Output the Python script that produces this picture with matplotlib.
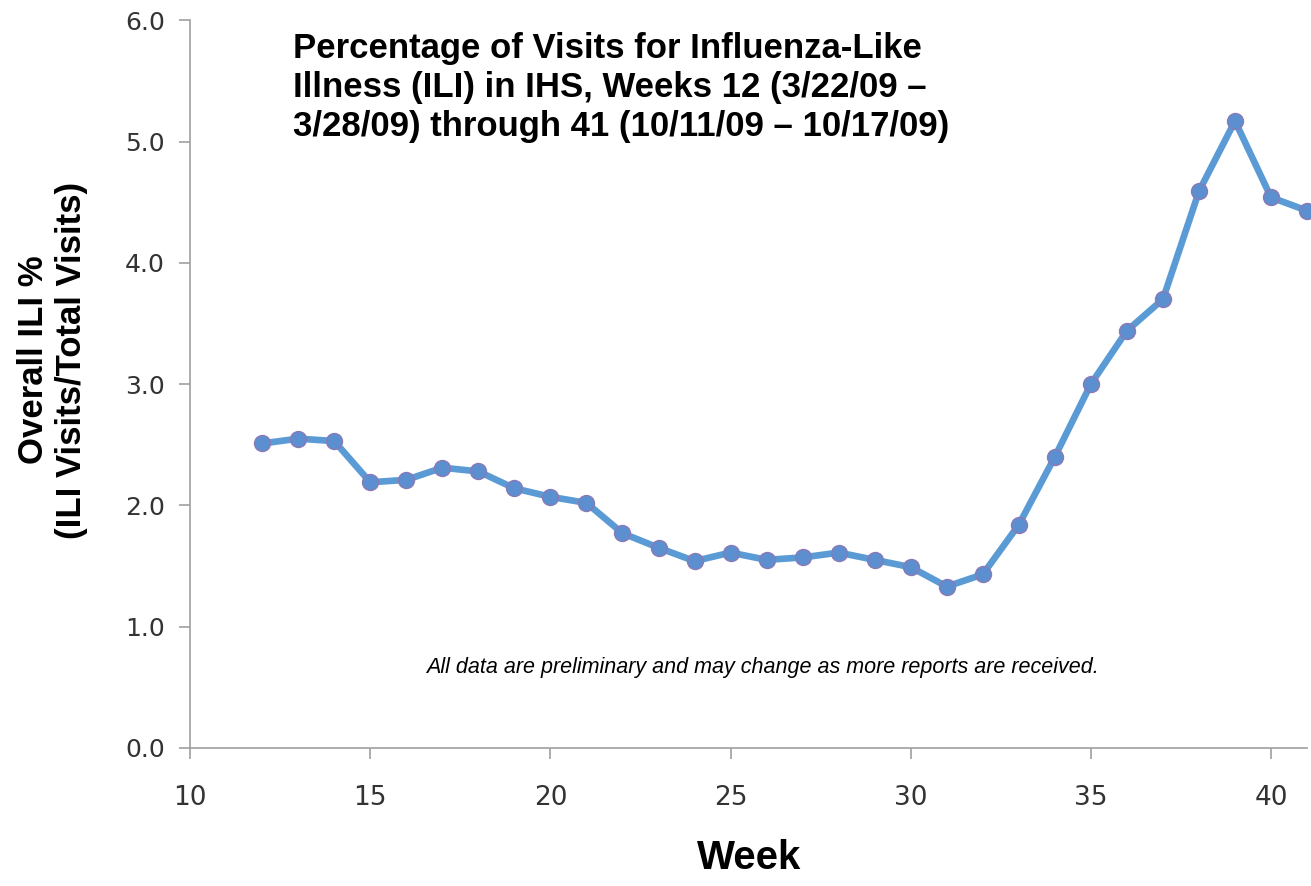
import matplotlib
matplotlib.use("Agg")
import matplotlib.pyplot as plt
from matplotlib.ticker import FormatStrFormatter

# ILI percentage per week (IHS), weeks 12 through 41
weeks = list(range(12, 42))
ili_pct = [2.51, 2.55, 2.53, 2.19, 2.21, 2.31, 2.28, 2.14, 2.07, 2.02,
           1.77, 1.65, 1.54, 1.61, 1.55, 1.57, 1.61, 1.55, 1.49, 1.33,
           1.43, 1.84, 2.40, 3.00, 3.44, 3.70, 4.59, 5.17, 4.54, 4.43]

x_ticks = [10, 15, 20, 25, 30, 35, 40]
y_ticks = [0.0, 1.0, 2.0, 3.0, 4.0, 5.0, 6.0]

title = ("Percentage of Visits for Influenza-Like\n"
         "Illness (ILI) in IHS, Weeks 12 (3/22/09 \u2013\n"
         "3/28/09) through 41 (10/11/09 \u2013 10/17/09)")
note = "All data are preliminary and may change as more reports are received."

fig = plt.figure(figsize=(13.11, 8.86), dpi=100)
ax = fig.add_axes([0.145, 0.156, 0.852, 0.821])

ax.plot(weeks, ili_pct, color="#5b9bd5", linewidth=4.8, marker="o",
        markersize=11.5, markerfacecolor="#5b8fd0", markeredgecolor="#8a7ab5",
        markeredgewidth=1.0, clip_on=False)

ax.set_xlim(10, 41)
ax.set_ylim(0, 6)
ax.set_xticks(x_ticks)
ax.set_yticks(y_ticks)
ax.yaxis.set_major_formatter(FormatStrFormatter("%.1f"))

for side in ["top", "right"]:
    ax.spines[side].set_visible(False)
for side in ["left", "bottom"]:
    ax.spines[side].set_color("#a0a0a0")
    ax.spines[side].set_linewidth(1.2)

ax.tick_params(axis="x", direction="out", length=8, width=1.2, color="#a0a0a0",
               pad=19, labelsize=19, labelcolor="#333333")
ax.tick_params(axis="y", direction="out", length=8, width=1.2, color="#a0a0a0",
               pad=10, labelsize=18, labelcolor="#333333")
for lab in ax.get_xticklabels() + ax.get_yticklabels():
    lab.set_family("DejaVu Sans")

ax.set_ylabel("Overall ILI %\n(ILI Visits/Total Visits)", family="Liberation Sans",
              fontsize=25, fontweight="bold", va="center")
ax.yaxis.set_label_coords(-0.123, 0.533)
ax.set_xlabel("Week", family="Liberation Sans", fontsize=29, fontweight="bold",
              labelpad=20)

fig.text(293 / 1311, 1 - 32 / 886, title, family="Liberation Sans", fontsize=25,
         fontweight="bold", va="top", ha="left", linespacing=1.24)
fig.text(762 / 1311, 1 - 667 / 886, note, family="Liberation Sans", fontsize=15.5,
         style="italic", ha="center", va="center")

fig.savefig("out.png", dpi=100)
